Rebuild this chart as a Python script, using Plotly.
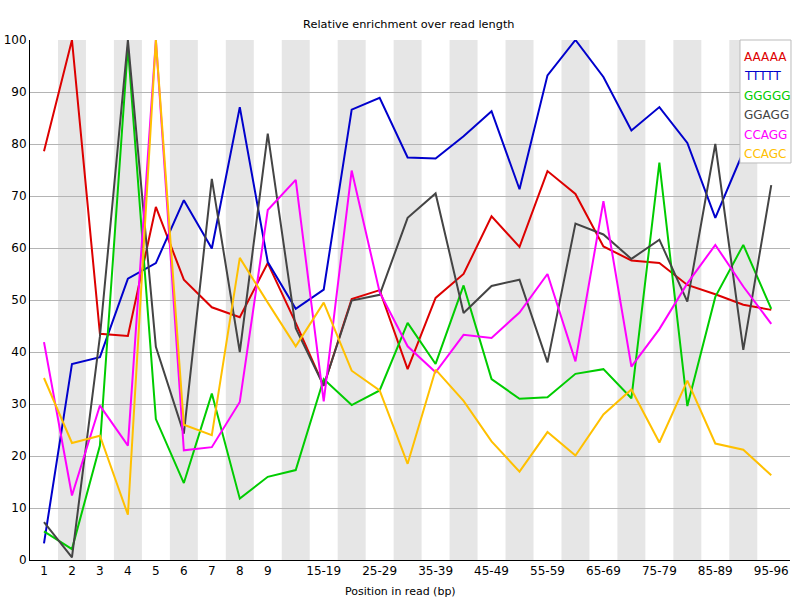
import plotly.graph_objects as go

categories = ["1", "2", "3", "4", "5", "6", "7", "8", "9", "10-14", "15-19", "20-24", "25-29",
              "30-34", "35-39", "40-44", "45-49", "50-54", "55-59", "60-64", "65-69", "70-74",
              "75-79", "80-84", "85-89", "90-94", "95-96"]
tick_labels = ["1", "2", "3", "4", "5", "6", "7", "8", "9", "15-19", "25-29", "35-39", "45-49",
               "55-59", "65-69", "75-79", "85-89", "95-96"]

aaaaa = [78.6, 100, 43.5, 43.1, 67.9, 53.9, 48.6, 46.7, 57.1, 45.6, 33.5, 50.2, 51.9,
         36.7, 50.4, 55.0, 66.1, 60.2, 74.8, 70.4, 60.3, 57.6, 57.1, 52.9, 51.1, 49.1, 48.1]
ttttt = [3.2, 37.7, 39.0, 54.1, 57.1, 69.2, 59.9, 87.1, 57.3, 48.3, 52.0, 86.6, 88.9,
         77.4, 77.2, 81.5, 86.3, 71.3, 93.2, 100, 92.9, 82.6, 87.1, 80.2, 65.8, 78.5, 88.0]
ggggg = [5.5, 2.1, 22.0, 98.7, 27.1, 14.8, 32.0, 11.8, 16.0, 17.3, 34.8, 29.8, 32.6,
         45.6, 37.7, 52.8, 34.8, 31.0, 31.3, 35.8, 36.7, 31.1, 76.4, 29.6, 50.6, 60.6, 48.3]
ggagg = [7.3, 0.5, 43.0, 100, 41.0, 24.3, 73.3, 40.0, 82.0, 44.6, 33.5, 49.9, 51.0,
         65.8, 70.5, 47.5, 52.7, 53.9, 38.0, 64.7, 62.6, 57.9, 61.6, 49.7, 80.0, 40.4, 72.1]
ccagg = [41.9, 12.4, 29.7, 22.0, 100, 21.1, 21.7, 30.4, 67.3, 73.1, 30.5, 74.9, 51.5,
         41.1, 36.1, 43.3, 42.7, 47.6, 55.0, 38.2, 69.0, 37.2, 44.4, 53.2, 60.6, 52.6, 45.4]
ccagc = [35.0, 22.5, 23.9, 8.7, 100, 26.0, 24.0, 58.1, 49.5, 41.1, 49.5, 36.4, 32.6,
         18.5, 36.6, 30.6, 22.8, 17.0, 24.6, 20.1, 28.0, 32.8, 22.6, 34.5, 22.4, 21.2, 16.3]

series_names = ["AAAAA", "TTTTT", "GGGGG", "GGAGG", "CCAGG", "CCAGC"]
series_values = [aaaaa, ttttt, ggggg, ggagg, ccagg, ccagc]
series_colors = ["#dd0000", "#0000cc", "#00cc00", "#444444", "#ff00ff", "#ffc000"]

FONT = "DejaVu Sans"

fig = go.Figure()
for name, vals, col in zip(series_names, series_values, series_colors):
    fig.add_trace(go.Scatter(x=categories, y=vals, mode="lines", name=name,
                             line=dict(color=col, width=2), showlegend=False))

shapes = []
for i in range(1, len(categories), 2):
    shapes.append(dict(type="rect", xref="x", yref="paper", x0=i - 0.5, x1=i + 0.5,
                       y0=0, y1=1, fillcolor="#e6e6e6", line=dict(width=0), layer="below"))
# legend box
shapes.append(dict(type="rect", xref="paper", yref="paper", x0=0.9342, x1=1.0013,
                   y0=0.7635, y1=1.0, fillcolor="white",
                   line=dict(color="#bbbbbb", width=1), layer="above"))

annotations = []
legend_y_px = [56.7, 75.8, 95.6, 115.2, 134.8, 154.3]
for name, col, py in zip(series_names, series_colors, legend_y_px):
    annotations.append(dict(text=name, xref="paper", yref="paper", x=0.9368,
                            y=(560 - py) / 520, xanchor="left", yanchor="middle",
                            showarrow=False, font=dict(family=FONT, size=12, color=col)))
# x axis title
annotations.append(dict(text="Position in read (bp)", xref="paper", yref="paper",
                        x=(400 - 30) / 760, y=-(591 - 560) / 520, xanchor="center",
                        yanchor="middle", showarrow=False,
                        font=dict(family=FONT, size=11, color="black")))

fig.update_layout(
    width=800, height=600,
    margin=dict(l=30, r=10, t=40, b=40, autoexpand=False),
    paper_bgcolor="white", plot_bgcolor="white",
    title=dict(text="Relative enrichment over read length", x=408.8 / 800, xanchor="center",
               y=1 - 24 / 600, yanchor="middle", yref="container", automargin=False,
               font=dict(family=FONT, size=11.3, color="black")),
    font=dict(family=FONT, size=12, color="black"),
    shapes=shapes, annotations=annotations,
    xaxis=dict(type="category", categoryorder="array", categoryarray=categories,
               range=[-0.5, 26.67], tickmode="array", tickvals=tick_labels,
               ticktext=tick_labels, showgrid=False, zeroline=False, automargin=False,
               showline=True, linecolor="black", linewidth=1, ticks="",
               tickfont=dict(family=FONT, size=12, color="black")),
    yaxis=dict(range=[0, 100], tickmode="array", tickvals=list(range(0, 101, 10)),
               showgrid=True, gridcolor="#b4b4b4", gridwidth=1, zeroline=False,
               automargin=False,
               showline=True, linecolor="black", linewidth=1, ticks="",
               tickfont=dict(family=FONT, size=12, color="black")),
)

fig.write_html("out.html", config={"displayModeBar": False},
               post_script="document.body.style.margin='0';document.body.style.padding='0';")
